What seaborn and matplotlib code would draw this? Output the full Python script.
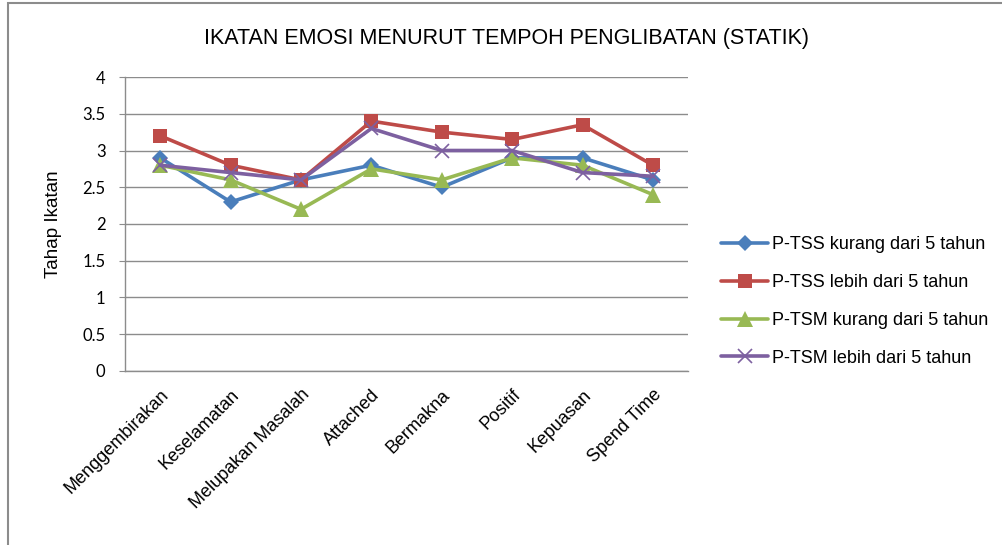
import matplotlib

matplotlib.use("Agg")

import matplotlib.pyplot as plt
import pandas as pd
import seaborn as sns
from matplotlib.patches import Rectangle

categories = [
    "Menggembirakan",
    "Keselamatan",
    "Melupakan Masalah",
    "Attached",
    "Bermakna",
    "Positif",
    "Kepuasan",
    "Spend Time",
]
series_names = [
    "P-TSS kurang dari 5 tahun",
    "P-TSS lebih dari 5 tahun",
    "P-TSM kurang dari 5 tahun",
    "P-TSM lebih dari 5 tahun",
]
tss_kurang = [2.9, 2.3, 2.6, 2.8, 2.5, 2.9, 2.9, 2.6]
tss_lebih = [3.2, 2.8, 2.6, 3.4, 3.25, 3.15, 3.35, 2.8]
tsm_kurang = [2.8, 2.6, 2.2, 2.75, 2.6, 2.9, 2.8, 2.4]
tsm_lebih = [2.8, 2.7, 2.6, 3.3, 3.0, 3.0, 2.7, 2.65]
y_ticks = [0, 0.5, 1, 1.5, 2, 2.5, 3, 3.5, 4]
y_tick_labels = ["0", "0.5", "1", "1.5", "2", "2.5", "3", "3.5", "4"]

colors = ["#4A7EBB", "#BE4B48", "#98B954", "#7D60A0"]
markers = ["D", "s", "^", "x"]
marker_sizes = [8.5, 10.5, 11, 10]

sns.set_style("white")
plt.rcParams["font.family"] = ["Liberation Sans", "DejaVu Sans"]
plt.rcParams["text.color"] = "black"
plt.rcParams["axes.labelcolor"] = "black"
plt.rcParams["xtick.color"] = "black"
plt.rcParams["ytick.color"] = "black"

df = pd.DataFrame(
    {
        "kategori": categories * 4,
        "nilai": tss_kurang + tss_lebih + tsm_kurang + tsm_lebih,
        "siri": [name for name in series_names for _ in categories],
    }
)

fig = plt.figure(figsize=(10.02, 5.45), dpi=100)
ax = fig.add_axes([0.1248, 0.3193, 0.5619, 0.5394])

for name, color, marker, size in zip(series_names, colors, markers, marker_sizes):
    part = df[df["siri"] == name]
    sns.lineplot(
        data=part,
        x="kategori",
        y="nilai",
        sort=False,
        color=color,
        marker=marker,
        markersize=size,
        markeredgewidth=1.2 if marker == "x" else 0,
        markeredgecolor=color,
        linewidth=2.6,
        label=name,
        ax=ax,
    )

ax.set_xlim(-0.5, len(categories) - 0.5)
ax.set_ylim(0, 4)
ax.set_yticks(y_ticks)
ax.set_yticklabels(y_tick_labels, fontsize=12, family=["Lato", "DejaVu Sans"])
ax.yaxis.grid(True, color="#8c8c8c", linewidth=1)
ax.set_axisbelow(True)
ax.set_xticks(range(len(categories)))
ax.set_xticklabels(categories, rotation=45, ha="right", rotation_mode="anchor", fontsize=13)
ax.tick_params(axis="x", length=0, pad=11)
ax.tick_params(axis="y", length=4, color="#8c8c8c", pad=10, left=True)
for side in ["top", "right"]:
    ax.spines[side].set_visible(False)
for side in ["left", "bottom"]:
    ax.spines[side].set_color("#8c8c8c")
    ax.spines[side].set_linewidth(1)

ax.set_xlabel("")
ax.set_ylabel("Tahap Ikatan", fontsize=13.5, labelpad=15)

ax.legend(
    loc="center left",
    bbox_to_anchor=(1.03, 0.236),
    frameon=False,
    fontsize=13,
    handlelength=2.6,
    handletextpad=0.2,
    labelspacing=1.15,
)

fig.text(0.505, 0.93, "IKATAN EMOSI MENURUT TEMPOH PENGLIBATAN (STATIK)",
         ha="center", va="center", fontsize=15.5)

fig.patches.append(
    Rectangle((0.008, -0.02), 1.1, 1.014, transform=fig.transFigure,
              fill=False, edgecolor="#8c8c8c", linewidth=1.5)
)

fig.savefig("out.png", dpi=100)
